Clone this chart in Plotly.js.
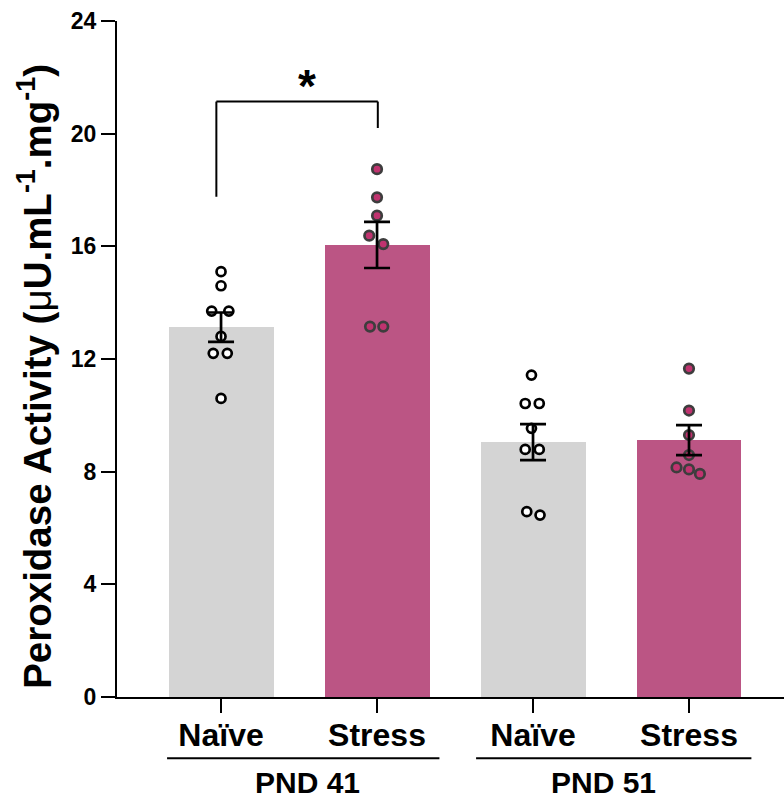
<!DOCTYPE html>
<html><head><meta charset="utf-8">
<script src="https://cdn.plot.ly/plotly-3.0.1.min.js"></script>
<style>html,body{margin:0;padding:0;background:#fff;}#chart{width:784px;height:800px;}</style>
</head><body><div id="chart"></div>
<script>
// ---- data ----
const categories = ['Naïve', 'Stress', 'Naïve', 'Stress'];
const groups = ['PND 41', 'PND 51'];
const means = [13.13, 16.05, 9.05, 9.12];
const sems = [0.52, 0.82, 0.64, 0.53];
const naive41 = [15.1, 14.6, 13.7, 13.7, 12.8, 12.2, 12.2, 10.6];
const stress41 = [18.74, 17.74, 17.09, 16.38, 16.08, 13.15, 13.15];
const naive51 = [11.43, 10.42, 10.42, 9.54, 8.79, 8.79, 6.58, 6.46];
const stress51 = [11.66, 10.17, 9.3, 8.59, 8.15, 8.08, 7.92];
const jitterN41 = [0, 0, -0.06, 0.05, 0, -0.05, 0.04, 0];
const jitterS41 = [0, 0, 0, -0.05, 0.04, -0.045, 0.04];
const jitterN51 = [-0.01, -0.05, 0.04, -0.01, -0.05, 0.04, -0.04, 0.045];
const jitterS51 = [0, 0, 0, 0, -0.08, 0, 0.07];
const yTicks = [0, 4, 8, 12, 16, 20, 24];
const sigLabel = '*';

const GRAY = '#d4d4d4', PINK = '#bb5584';
const FONT = 'Arial, "Liberation Sans", sans-serif';
const pos = categories.map((c, i) => i);

const traces = [];
traces.push({
  type: 'bar', x: pos, y: means, width: 0.673,
  marker: {color: [GRAY, PINK, GRAY, PINK], line: {width: 0}},
  hoverinfo: 'skip', showlegend: false
});
const pointSets = [[naive41, jitterN41, 0, true], [stress41, jitterS41, 1, false],
                   [naive51, jitterN51, 2, true], [stress51, jitterS51, 3, false]];
pointSets.forEach(([vals, jit, c, naive]) => {
  traces.push({
    type: 'scatter', mode: 'markers',
    x: vals.map((v, i) => c + jit[i]), y: vals,
    marker: naive ? {size: 9, color: '#ffffff', line: {color: '#000000', width: 2.7}}
                  : {size: 9.5, color: '#c0336f', line: {color: '#3d3d3d', width: 2.7}},
    showlegend: false, hoverinfo: 'skip', cliponaxis: false
  });
});
traces.push({
  type: 'scatter', mode: 'markers', x: pos, y: means,
  marker: {size: 1, color: 'rgba(0,0,0,0)'},
  error_y: {type: 'data', array: sems, visible: true, color: '#000', thickness: 2.7, width: 13},
  showlegend: false, hoverinfo: 'skip'
});

const shapes = [
  // significance bracket
  {type: 'line', xref: 'x', yref: 'y', x0: -0.03, x1: -0.03, y0: 17.76, y1: 21.14, line: {color: '#000', width: 2}},
  {type: 'line', xref: 'x', yref: 'y', x0: -0.03, x1: 1.005, y0: 21.14, y1: 21.14, line: {color: '#000', width: 2}},
  {type: 'line', xref: 'x', yref: 'y', x0: 1.005, x1: 1.005, y0: 20.2, y1: 21.14, line: {color: '#000', width: 2}},
  // group underlines
  {type: 'line', xref: 'x', yref: 'paper', x0: -0.346, x1: 1.40, y0: -0.0905, y1: -0.0905, line: {color: '#000', width: 2}},
  {type: 'line', xref: 'x', yref: 'paper', x0: 1.635, x1: 3.40, y0: -0.0905, y1: -0.0905, line: {color: '#000', width: 2}}
];

const annotations = [
  {xref: 'x', yref: 'paper', x: 0.554, y: -0.127, text: '<b>' + groups[0] + '</b>', showarrow: false,
   font: {family: FONT, size: 30, color: '#000'}, xanchor: 'center', yanchor: 'middle', borderpad: 0},
  {xref: 'x', yref: 'paper', x: 2.45, y: -0.127, text: '<b>' + groups[1] + '</b>', showarrow: false,
   font: {family: FONT, size: 30, color: '#000'}, xanchor: 'center', yanchor: 'middle', borderpad: 0},
  {xref: 'x', yref: 'y', x: 0.548, y: 21.7, text: '<b>' + sigLabel + '</b>', showarrow: false,
   font: {family: FONT, size: 46, color: '#000'}, xanchor: 'center', yanchor: 'middle'},
  {xref: 'paper', yref: 'paper', x: -0.124, y: 0.474, xanchor: 'center', yanchor: 'middle', textangle: -90,
   text: '<b>Peroxidase Activity (</b>μ<b>U.mL<sup>-1</sup>.mg<sup>-1</sup>)</b>', showarrow: false,
   font: {family: FONT, size: 38.5, color: '#000'}}
];

const layout = {
  width: 784, height: 800,
  margin: {l: 117, r: 0, t: 21, b: 103},
  paper_bgcolor: '#fff', plot_bgcolor: '#fff',
  bargap: 0,
  xaxis: {
    range: [-0.667, 3.609], tickvals: pos, ticktext: categories.map(c => '<b>' + c + '</b>'),
    showgrid: false, zeroline: false, showline: true, linecolor: '#000', linewidth: 2,
    ticks: 'outside', ticklen: 14, tickwidth: 2.5, tickcolor: '#000', ticklabelstandoff: -5,
    tickfont: {family: FONT, size: 32, color: '#000'}, fixedrange: true
  },
  yaxis: {
    range: [0, 24], tickvals: yTicks, ticktext: yTicks.map(v => '<b>' + v + '</b>'),
    showgrid: false, zeroline: false, showline: true, linecolor: '#000', linewidth: 2,
    ticks: 'outside', ticklen: 14, tickwidth: 2, tickcolor: '#000',
    tickfont: {family: FONT, size: 23, color: '#000'}, fixedrange: true
  },
  shapes: shapes, annotations: annotations
};

Plotly.newPlot('chart', traces, layout, {displayModeBar: false, staticPlot: true});
</script></body></html>
